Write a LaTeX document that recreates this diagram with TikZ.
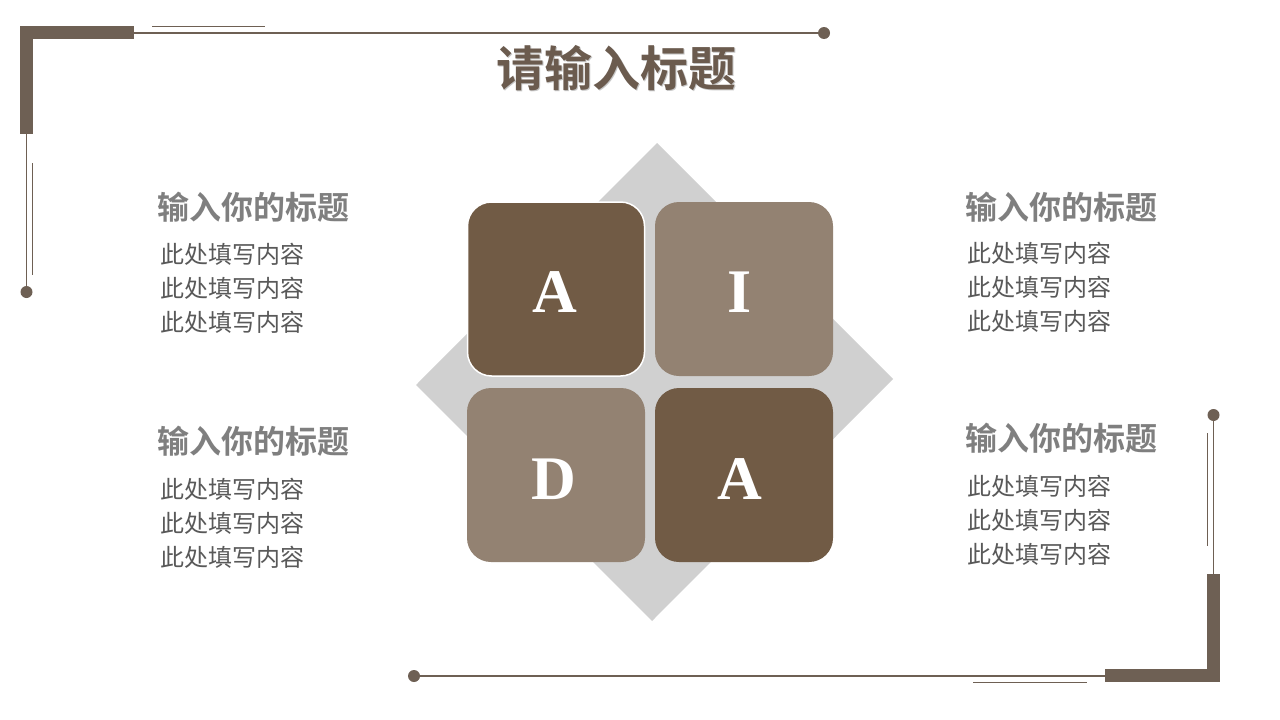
\documentclass[tikz,border=0pt]{standalone}
\usepackage{fontspec}
\setmainfont{Liberation Serif}
\newfontfamily\cjk{Noto Sans CJK SC}
\newfontfamily\cjkb{Noto Sans CJK SC Bold}
\definecolor{darkbr}{HTML}{715B45}
\definecolor{lightbr}{HTML}{938272}
\definecolor{framebr}{HTML}{6E6054}
\definecolor{diam}{HTML}{D0D0D0}
\definecolor{subgray}{HTML}{7F7F7F}
\definecolor{bodygray}{HTML}{595959}
\definecolor{titlebr}{HTML}{6B5B4E}
\tikzset{
  tile/.style={rounded corners=24pt,draw=none},
  letter/.style={font=\fontsize{62}{62}\selectfont\bfseries,text=white,inner sep=0pt},
  subt/.style={font=\cjkb\fontsize{32}{36}\selectfont,text=subgray,anchor=west,inner sep=0pt},
  body/.style={font=\cjk\fontsize{24}{34}\selectfont,text=bodygray,anchor=north west,inner sep=0pt,align=left},
  thin/.style={draw=framebr,line width=1.2pt},
  thinner/.style={draw=framebr,line width=0.9pt},
  dot/.style={circle,fill=framebr,inner sep=0pt,minimum size=12pt},
}
\begin{document}
\begin{tikzpicture}[x=1pt,y=-1pt]
\useasboundingbox (0,0) rectangle (1280,720);
\fill[white] (0,0) rectangle (1280,720);
% top-left frame
\fill[framebr] (20,26) rectangle (134,39);
\fill[framebr] (20,26) rectangle (33,134);
\node[dot] (dtr) at (824,33) {};
\coordinate (tlh) at (134,33);
\draw[thin] (tlh) -- (dtr);
\coordinate (s1a) at (152,26); \coordinate (s1b) at (265,26);
\draw[thinner] (s1a) -- (s1b);
\node[dot] (dtl) at (26.5,292) {};
\coordinate (tlv) at (26.5,134);
\draw[thin] (tlv) -- (dtl);
\coordinate (s2a) at (32.5,163); \coordinate (s2b) at (32.5,275);
\draw[thinner] (s2a) -- (s2b);
% bottom-right frame
\fill[framebr] (1105,669) rectangle (1220,682);
\fill[framebr] (1207,574) rectangle (1220,682);
\node[dot] (dbr) at (1213.5,415) {};
\coordinate (brv) at (1213.5,574);
\draw[thin] (brv) -- (dbr);
\coordinate (s3a) at (1207,433); \coordinate (s3b) at (1207,546);
\draw[thinner] (s3a) -- (s3b);
\node[dot] (dbl) at (414,676) {};
\coordinate (brh) at (1105,676);
\draw[thin] (dbl) -- (brh);
\coordinate (s4a) at (973,682); \coordinate (s4b) at (1087,682);
\draw[thinner] (s4a) -- (s4b);
% title
\node[font=\cjkb\fontsize{48}{52}\selectfont,text=black!22,inner sep=0pt] at (617.5,69.5) {请输入标题};
\node[font=\cjkb\fontsize{48}{52}\selectfont,text=titlebr,inner sep=0pt] (title) at (616,68) {请输入标题};
% diamond
\fill[diam] (657,143) -- (893,379) -- (652,621) -- (416,385) -- cycle;
% tiles
\fill[tile,lightbr] (655,202) rectangle (833,376);
\fill[tile,lightbr] (467,388) rectangle (645,562);
\fill[tile,darkbr] (655,388) rectangle (833,562);
\draw[tile,fill=darkbr,draw=white,line width=1.5pt] (467.5,202) rectangle (644.5,376);
\node[letter] (la1) at (555,292) {A};
\node[letter] (li) at (740,292) {I};
\node[letter] (ld) at (554,479) {D};
\node[letter] (la2) at (740,479) {A};
% left texts
\node[subt] (t1) at (157,207) {输入你的标题};
\node[body] (b1) at (160,243) {此处填写内容\\此处填写内容\\此处填写内容};
\node[subt] (t2) at (157,441) {输入你的标题};
\node[body] (b2) at (160,478) {此处填写内容\\此处填写内容\\此处填写内容};
% right texts
\node[subt] (t3) at (965,207) {输入你的标题};
\node[body] (b3) at (967,242) {此处填写内容\\此处填写内容\\此处填写内容};
\node[subt] (t4) at (965,438) {输入你的标题};
\node[body] (b4) at (967,475) {此处填写内容\\此处填写内容\\此处填写内容};
\end{tikzpicture}
\end{document}
